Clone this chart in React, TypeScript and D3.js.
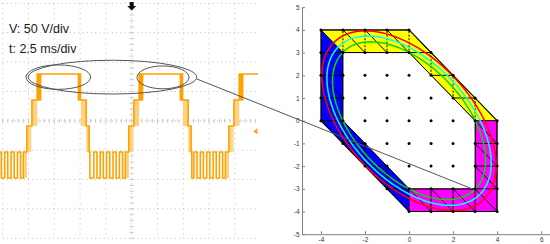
import React, { useRef, useEffect } from 'react';
import * as d3 from 'd3';

// ---------- oscilloscope (left) ----------
const timeGrid = [0, 2.5, 5, 7.5, 10, 12.5, 15, 17.5, 20, 22.5, 25]; // ms, 2.5 ms/div
const voltGrid = [-200, -150, -100, -50, 0, 50, 100, 150, 200]; // V, 50 V/div

// start of each top (+2) plateau, ms
const topStarts = [3.7, 13.58, 23.28];

// one cycle of the trace: [ms relative to top start, level]
const cycleSteps: [number, number][] = [
  [-4.9, -2],
  [-4.75, -1], [-4.45, -2],
  [-4.13, -1], [-3.83, -2],
  [-3.51, -1], [-3.21, -2],
  [-2.89, -1], [-2.59, -2],
  [-2.27, -1], [-1.97, -2],
  [-1.7, -1],
  [-1.36, 0],
  [-0.87, 1],
  [-0.36, 2], [-0.3, 1], [-0.24, 2], [-0.18, 1], [-0.12, 2], [-0.07, 1], [-0.03, 2],
  [3.64, 1], [3.69, 2], [3.74, 1], [3.79, 2], [3.84, 1],
  [4.39, 0],
  [4.68, -1],
  [4.75, -2],
];

// faint switching lines: [ms relative to top start, low level, high level]
const faintLines: [number, number, number][] = [
  [-1.55, -2, -1], [-1.48, -2, -1], [-1.42, -2, -1],
  [-1.28, -1, 0], [-1.18, -1, 0], [-1.08, -1, 0], [-0.98, -1, 0],
  [-0.8, 0, 1], [-0.7, 0, 1], [-0.6, 0, 1], [-0.5, 0, 1], [-0.42, 0, 1],
  [3.95, 0, 1], [4.05, 0, 1], [4.15, 0, 1], [4.25, 0, 1], [4.33, 0, 1],
  [4.46, -1, 0], [4.54, -1, 0], [4.62, -1, 0],
];

// zoom rings: [centre ms, centre level, radius ms, radius level]
const zoomRings: [number, number, number, number][] = [
  [5.39, 1.88, 3.13, 0.47],
  [15.53, 1.87, 2.52, 0.44],
  [10.64, 1.88, 8.16, 0.65],
];
const ringTail: [number, number] = [18.8, 1.81];
const triggerLevel = -0.2;

// ---------- vector plane (right) ----------
const outerHex: [number, number][] = [[-4, 4], [0, 4], [4, 0], [4, -4], [0, -4], [-4, 0]];
const innerHex: [number, number][] = [[-3, 3], [0, 3], [3, 0], [3, -3], [0, -3], [-3, 0]];
const sectors = [
  { color: '#ffff00', pts: [[-4, 4], [0, 4], [4, 0], [3, 0], [0, 3], [-3, 3]] },
  { color: '#ff00ff', pts: [[4, 0], [4, -4], [0, -4], [0, -3], [3, -3], [3, 0]] },
  { color: '#0000ff', pts: [[-4, 4], [-3, 3], [-3, 0], [0, -3], [0, -4], [-4, 0]] },
];
const lattice = [-4, -3, -2, -1, 0, 1, 2, 3, 4];
const trajectories = [
  { r: 3.43, color: '#ff0000' },
  { r: 3.23, color: '#00ffff' },
  { r: 3.01, color: '#00dd00' },
];
const xTicks = [-4, -2, 0, 2, 4, 6];
const yTicks = [-5, -4, -3, -2, -1, 0, 1, 2, 3, 4, 5];
const zoomTarget: [number, number] = [2.86, -3.0];

export default function App() {
  const xAxisRef = useRef<SVGGElement>(null);
  const yAxisRef = useRef<SVGGElement>(null);

  const tx = d3.scaleLinear().domain([0, 25]).range([2.7, 260.7]);
  const vy = d3.scaleLinear().domain([-200, 200]).range([238.3, 3.3]);
  const ly = d3.scaleLinear().domain([-2, 2]).range([178, 74]);
  const px = d3.scaleLinear().domain([-4.86, 6.4]).range([302, 550]);
  const py = d3.scaleLinear().domain([-5, 5]).range([234.2, 7.2]);

  useEffect(() => {
    const style = (g: any) => {
      g.select('.domain').attr('stroke', '#808080');
      g.selectAll('.tick line').attr('stroke', '#808080');
      g.selectAll('.tick text')
        .attr('fill', '#333')
        .attr('font-size', 6.5)
        .attr('font-family', 'Liberation Sans, Arial, sans-serif');
    };
    const xa = d3.axisBottom(px).tickValues(xTicks).tickSize(-3).tickSizeOuter(0)
      .tickPadding(3).tickFormat((d: any) => String(d));
    const ya = d3.axisLeft(py).tickValues(yTicks).tickSize(-3).tickSizeOuter(0)
      .tickPadding(2.5).tickFormat((d: any) => String(d));
    d3.select(xAxisRef.current).call(xa as any).call(style);
    d3.select(yAxisRef.current).call(ya as any).call(style);
  }, []);

  // trace
  const steps: [number, number][] = [];
  topStarts.forEach((T) => cycleSteps.forEach(([r, l]) => steps.push([T + r, l])));
  const trace = d3.line<[number, number]>()
    .x((d) => tx(d[0])).y((d) => ly(d[1])).curve(d3.curveStepAfter)(steps);
  const faint: [number, number, number][] = [];
  topStarts.forEach((T) => faintLines.forEach(([r, lo, hi]) => faint.push([T + r, lo, hi])));

  const pl = d3.line<number[]>().x((d) => px(d[0])).y((d) => py(d[1]));
  const poly = (pts: number[][]) => pl(pts) + 'Z';
  const bandPath = poly(outerHex) + poly(innerHex);

  const ellipsePts = (r: number) =>
    d3.range(0, 360, 3).map((a) => {
      const th = (a * Math.PI) / 180;
      const yv = (2 * r * Math.sin(th)) / Math.sqrt(3);
      return [r * Math.cos(th) - yv / 2, yv];
    });
  const closed = d3.line<number[]>().x((d) => px(d[0])).y((d) => py(d[1])).curve(d3.curveLinearClosed);

  const dots: number[][] = [];
  lattice.forEach((i) => lattice.forEach((j) => {
    if (Math.abs(i + j) <= 4) dots.push([i, j]);
  }));

  return (
    <svg width={550} height={244} style={{ position: 'absolute', left: 0, top: 0, background: '#fff' }}
      fontFamily="Liberation Sans, Arial, sans-serif">
      <defs>
        <clipPath id="scope"><rect x={0} y={0} width={258} height={244} /></clipPath>
        <clipPath id="band"><path d={bandPath} clipRule="evenodd" /></clipPath>
      </defs>

      {/* scope grid */}
      <g clipPath="url(#scope)">
        {timeGrid.map((t) => (
          <line key={'vg' + t} x1={tx(t)} x2={tx(t)} y1={vy(200)} y2={vy(-200)}
            stroke="#bdbdbd" strokeWidth={1} strokeDasharray="1 4" />
        ))}
        {voltGrid.map((v) => (
          <line key={'hg' + v} x1={tx(0)} x2={tx(25)} y1={vy(v)} y2={vy(v)}
            stroke="#bdbdbd" strokeWidth={1} strokeDasharray="1 3.2" />
        ))}
        {d3.range(0, 25.01, 0.5).map((t) => (
          <line key={'mt' + t} x1={tx(t)} x2={tx(t)} y1={vy(0) - 2} y2={vy(0) + 2} stroke="#c8c8c8" />
        ))}
        {d3.range(-200, 200.1, 10).map((v) => (
          <line key={'mv' + v} x1={tx(12.5) - 2} x2={tx(12.5) + 2} y1={vy(v)} y2={vy(v)} stroke="#c8c8c8" />
        ))}

        {faint.map(([t, lo, hi], i) => (
          <line key={'f' + i} x1={tx(t)} x2={tx(t)} y1={ly(lo)} y2={ly(hi)}
            stroke="#ffcf78" strokeWidth={1.2} />
        ))}
        <path d={trace || ''} fill="none" stroke="#ffa200" strokeWidth={1.6} />
      </g>

      {/* top marker and trigger marker */}
      <path d={`M${tx(12.5) - 2},2 h4 v4 h2.5 l-4.5,4.5 l-4.5,-4.5 h2.5 z`} fill="#111" />
      <path d={`M253.3,${ly(triggerLevel)} l4,-3 v6 z`} fill="#ffa200" />

      <text x={9} y={33} fontSize={12.5} fill="#1a1a1a">V: 50 V/div</text>
      <text x={9} y={53} fontSize={12.5} fill="#1a1a1a">t: 2.5 ms/div</text>

      {/* vector plane */}
      {sectors.map((s, i) => (
        <path key={'s' + i} d={poly(s.pts)} fill={s.color} />
      ))}
      <g clipPath="url(#band)" stroke="#000" strokeWidth={1} fill="none">
        {lattice.map((k) => (
          <line key={'h' + k} x1={px(-4)} x2={px(4)} y1={py(k)} y2={py(k)} />
        ))}
        {lattice.map((k) => (
          <g key={'v' + k}>
            <line x1={px(k)} x2={px(k)} y1={py(0)} y2={py(4)} strokeDasharray="2 1.5" />
            <line x1={px(k)} x2={px(k)} y1={py(-4)} y2={py(0)} />
          </g>
        ))}
        {lattice.map((k) => (
          <line key={'d' + k} x1={px(-4)} x2={px(4)} y1={py(k + 4)} y2={py(k - 4)} />
        ))}
      </g>
      <path d={poly(outerHex)} fill="none" stroke="#000" strokeWidth={1.1} />
      <path d={poly(innerHex)} fill="none" stroke="#000" strokeWidth={1} />
      {trajectories.map((tr) => (
        <path key={tr.color} d={closed(ellipsePts(tr.r)) || ''} fill="none" stroke={tr.color} strokeWidth={1.5} />
      ))}
      {dots.map(([i, j]) => (
        <circle key={`p${i}_${j}`} cx={px(i)} cy={py(j)} r={1.5} fill="#000" />
      ))}

      <g ref={yAxisRef} transform={`translate(${px(-4.86)},0)`} />
      <g ref={xAxisRef} transform={`translate(0,${py(-5)})`} />

      {/* zoom rings and connector */}
      {zoomRings.map(([cx, cy, rx, ry], i) => (
        <ellipse key={'z' + i} cx={tx(cx)} cy={ly(cy)} rx={tx(rx) - tx(0)} ry={ly(0) - ly(ry)}
          fill="none" stroke="#555" strokeWidth={1} />
      ))}
      <line x1={tx(ringTail[0])} y1={ly(ringTail[1])} x2={px(zoomTarget[0])} y2={py(zoomTarget[1])}
        stroke="#555" strokeWidth={1} />
    </svg>
  );
}
